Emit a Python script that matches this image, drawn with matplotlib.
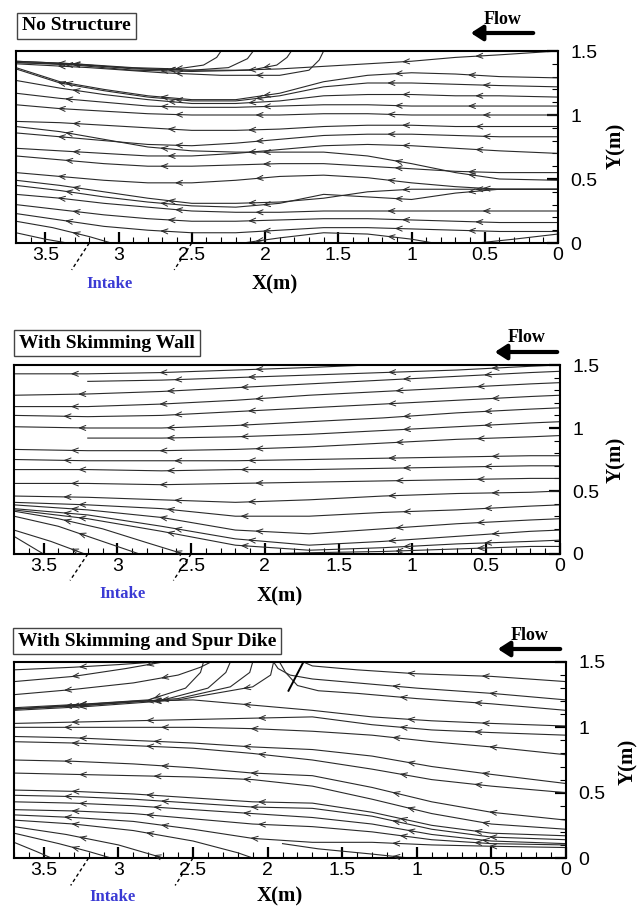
import numpy as np
import matplotlib
matplotlib.use('Agg')
import matplotlib.pyplot as plt
from matplotlib.ticker import MultipleLocator, FuncFormatter

# ---------------- panel 1 : no structure ----------------
NS_X = [3.7, 3.4, 3.1, 2.8, 2.5, 2.2, 1.9, 1.6, 1.3, 1.0, 0.7, 0.4, 0.0]
NS_Y = [
    [1.41, 1.40, 1.38, 1.36, 1.35, 1.35, 1.36, 1.38, 1.40, 1.42, 1.45, 1.47, 1.50],
    [1.37, 1.26, 1.20, 1.15, 1.12, 1.12, 1.17, 1.26, 1.31, 1.33, 1.32, 1.30, 1.29],
    [1.36, 1.25, 1.19, 1.14, 1.11, 1.11, 1.15, 1.22, 1.25, 1.25, 1.24, 1.23, 1.22],
    [1.27, 1.21, 1.16, 1.12, 1.09, 1.09, 1.11, 1.15, 1.16, 1.16, 1.15, 1.15, 1.14],
    [1.17, 1.13, 1.10, 1.07, 1.06, 1.06, 1.07, 1.08, 1.08, 1.07, 1.07, 1.07, 1.07],
    [1.08, 1.05, 1.03, 1.01, 1.00, 1.00, 1.00, 1.01, 1.01, 1.00, 1.00, 1.00, 1.00],
    [0.95, 0.94, 0.92, 0.90, 0.88, 0.88, 0.89, 0.91, 0.92, 0.92, 0.91, 0.91, 0.91],
    [0.91, 0.87, 0.81, 0.75, 0.72, 0.71, 0.71, 0.71, 0.68, 0.62, 0.55, 0.50, 0.49],
    [0.86, 0.83, 0.80, 0.77, 0.76, 0.78, 0.81, 0.84, 0.85, 0.85, 0.84, 0.83, 0.83],
    [0.74, 0.72, 0.70, 0.68, 0.68, 0.70, 0.73, 0.76, 0.77, 0.76, 0.74, 0.72, 0.70],
    [0.68, 0.65, 0.62, 0.60, 0.60, 0.61, 0.62, 0.62, 0.60, 0.58, 0.56, 0.55, 0.55],
    [0.55, 0.52, 0.49, 0.47, 0.47, 0.49, 0.52, 0.53, 0.51, 0.47, 0.44, 0.42, 0.42],
    [0.49, 0.45, 0.40, 0.35, 0.31, 0.31, 0.32, 0.35, 0.40, 0.42, 0.42, 0.42, 0.42],
    [0.45, 0.41, 0.36, 0.32, 0.29, 0.28, 0.31, 0.38, 0.36, 0.34, 0.39, 0.42, 0.42],
    [0.38, 0.35, 0.31, 0.28, 0.25, 0.24, 0.24, 0.25, 0.25, 0.25, 0.25, 0.25, 0.25],
    [0.30, 0.26, 0.22, 0.19, 0.17, 0.17, 0.18, 0.19, 0.19, 0.18, 0.17, 0.16, 0.16],
    [0.23, 0.18, 0.13, 0.10, 0.08, 0.08, 0.10, 0.12, 0.12, 0.11, 0.10, 0.09, 0.09],
]
# lines that start or end on a wall
NS_WALL_X = [
    [3.7, 3.3, 2.9, 2.6, 2.42, 2.33, 2.30],
    [3.7, 3.3, 2.9, 2.5, 2.25, 2.12, 2.08],
    [3.7, 3.3, 2.9, 2.5, 2.1, 1.92, 1.85, 1.82],
    [3.7, 3.2, 2.7, 2.3, 1.9, 1.7, 1.63, 1.60],
    [3.7, 3.45, 3.2, 3.05],
    [3.7, 3.5, 3.35],
    [2.15, 1.9, 1.6, 1.3, 1.0, 0.85],
    [0.55, 0.3, 0.0],
]
NS_WALL_Y = [
    [1.42, 1.40, 1.37, 1.36, 1.39, 1.45, 1.50],
    [1.42, 1.40, 1.36, 1.35, 1.37, 1.44, 1.50],
    [1.41, 1.39, 1.35, 1.34, 1.35, 1.39, 1.45, 1.50],
    [1.40, 1.37, 1.33, 1.31, 1.31, 1.35, 1.43, 1.50],
    [0.17, 0.12, 0.05, 0.0],
    [0.08, 0.03, 0.0],
    [0.0, 0.04, 0.08, 0.07, 0.03, 0.0],
    [0.0, 0.03, 0.07],
]

# ---------------- panel 2 : skimming wall ----------------
SW_X = [3.7, 3.2, 2.7, 2.2, 1.7, 1.2, 0.7, 0.2, 0.0]
SW_Y = [
    [1.26, 1.27, 1.29, 1.32, 1.35, 1.38, 1.41, 1.44, 1.45],
    [1.17, 1.17, 1.19, 1.22, 1.26, 1.29, 1.32, 1.35, 1.36],
    [1.10, 1.09, 1.10, 1.13, 1.16, 1.19, 1.22, 1.25, 1.26],
    [1.01, 1.00, 1.00, 1.02, 1.05, 1.08, 1.12, 1.15, 1.16],
    [0.83, 0.82, 0.82, 0.83, 0.85, 0.88, 0.91, 0.93, 0.94],
    [0.75, 0.74, 0.74, 0.74, 0.75, 0.76, 0.77, 0.78, 0.78],
    [0.67, 0.67, 0.66, 0.67, 0.67, 0.68, 0.69, 0.70, 0.70],
    [0.56, 0.56, 0.55, 0.56, 0.57, 0.58, 0.59, 0.60, 0.60],
    [0.46, 0.45, 0.43, 0.41, 0.43, 0.46, 0.48, 0.49, 0.50],
    [0.41, 0.39, 0.36, 0.30, 0.30, 0.33, 0.35, 0.38, 0.39],
    [0.39, 0.35, 0.29, 0.19, 0.16, 0.20, 0.24, 0.27, 0.28],
    [0.36, 0.31, 0.22, 0.12, 0.07, 0.10, 0.14, 0.18, 0.19],
    [0.35, 0.28, 0.18, 0.07, 0.03, 0.05, 0.08, 0.10, 0.11],
]
SW_WALL_X = [
    [3.7, 3.2, 2.7, 2.2, 1.7, 1.3],
    [3.2, 2.7, 2.2, 1.7, 1.2, 0.7, 0.2, 0.0],
    [3.2, 2.7, 2.2, 1.7, 1.2, 0.7, 0.2, 0.0],
    [2.05, 1.7, 1.2, 0.7, 0.2, 0.0],
    [3.7, 3.4, 3.1, 2.8, 2.55],
    [3.7, 3.4, 3.1, 2.85],
    [3.7, 3.45, 3.22],
    [3.7, 3.5],
]
SW_WALL_Y = [
    [1.43, 1.43, 1.44, 1.46, 1.48, 1.50],
    [1.37, 1.38, 1.40, 1.42, 1.44, 1.46, 1.49, 1.50],
    [0.92, 0.92, 0.93, 0.95, 0.98, 1.01, 1.04, 1.05],
    [0.0, 0.01, 0.02, 0.04, 0.06, 0.06],
    [0.34, 0.28, 0.20, 0.09, 0.0],
    [0.30, 0.22, 0.10, 0.0],
    [0.19, 0.10, 0.0],
    [0.14, 0.0],
]

# ---------------- panel 3 : skimming wall and spur dike ----------------
SD_X = [3.7, 3.3, 2.9, 2.5, 2.1, 1.7, 1.3, 0.9, 0.5, 0.0]
SD_Y = [
    [1.14, 1.17, 1.20, 1.21, 1.17, 1.13, 1.08, 1.05, 1.03, 1.01],
    [1.03, 1.04, 1.05, 1.06, 1.07, 1.08, 1.02, 0.98, 0.96, 0.94],
    [1.00, 1.00, 1.00, 1.00, 0.99, 0.97, 0.94, 0.89, 0.85, 0.79],
    [0.93, 0.92, 0.90, 0.88, 0.85, 0.83, 0.78, 0.70, 0.64, 0.57],
    [0.89, 0.88, 0.86, 0.84, 0.80, 0.75, 0.68, 0.60, 0.55, 0.50],
    [0.75, 0.74, 0.72, 0.69, 0.65, 0.63, 0.54, 0.43, 0.35, 0.29],
    [0.65, 0.64, 0.63, 0.62, 0.60, 0.55, 0.45, 0.34, 0.26, 0.22],
    [0.52, 0.51, 0.49, 0.46, 0.43, 0.42, 0.35, 0.25, 0.19, 0.17],
    [0.48, 0.47, 0.45, 0.42, 0.39, 0.38, 0.32, 0.22, 0.16, 0.14],
    [0.43, 0.42, 0.40, 0.37, 0.34, 0.31, 0.26, 0.18, 0.13, 0.11],
    [0.37, 0.36, 0.34, 0.30, 0.26, 0.24, 0.20, 0.14, 0.11, 0.10],
    [0.33, 0.31, 0.28, 0.22, 0.15, 0.12, 0.12, 0.10, 0.09, 0.08],
]
SD_WALL_X = [
    [3.7, 3.3, 3.0, 2.75],
    [3.7, 3.3, 2.95, 2.7],
    [3.7, 3.3, 2.9, 2.6, 2.45, 2.38],
    [3.7, 3.2, 2.8, 2.55, 2.45, 2.43],
    [3.7, 3.2, 2.7, 2.4, 2.28, 2.25],
    [3.7, 3.2, 2.6, 2.25, 2.12, 2.10],
    [3.7, 3.2, 2.6, 2.1, 1.98, 1.96],
    [0.0, 0.5, 1.0, 1.4, 1.66, 1.8, 1.88, 1.92],
    [0.0, 0.5, 1.0, 1.4, 1.7, 1.85, 1.93, 1.96],
    [0.0, 0.5, 1.0, 1.4, 1.7, 1.76],
    [3.7, 3.3, 2.9, 2.5, 2.2, 2.1],
    [1.05, 1.3, 1.66, 1.9],
    [3.7, 3.35, 3.0, 2.7],
    [3.7, 3.4, 3.2, 3.05],
    [3.7, 3.55, 3.45],
]
SD_WALL_Y = [
    [1.44, 1.46, 1.48, 1.50],
    [1.35, 1.39, 1.45, 1.50],
    [1.25, 1.29, 1.34, 1.40, 1.46, 1.50],
    [1.15, 1.18, 1.21, 1.30, 1.42, 1.50],
    [1.14, 1.17, 1.21, 1.30, 1.42, 1.50],
    [1.14, 1.17, 1.22, 1.31, 1.42, 1.50],
    [1.13, 1.16, 1.21, 1.31, 1.40, 1.50],
    [1.13, 1.18, 1.22, 1.26, 1.28, 1.32, 1.42, 1.50],
    [1.21, 1.26, 1.30, 1.34, 1.37, 1.40, 1.45, 1.50],
    [1.35, 1.39, 1.41, 1.44, 1.47, 1.50],
    [0.29, 0.26, 0.21, 0.13, 0.04, 0.0],
    [0.0, 0.03, 0.07, 0.11],
    [0.24, 0.18, 0.10, 0.0],
    [0.19, 0.11, 0.05, 0.0],
    [0.12, 0.05, 0.0],
]
DIKE_X = [1.76, 1.86]
DIKE_Y = [1.50, 1.28]

TITLES = ["No Structure", "With Skimming Wall", "With Skimming and Spur Dike"]
INTAKE_X = [3.2, 2.5]

W, H = 638, 913
LINE_COL = '#2a2a2a'


def fx(px):
    return px / W


def fy(py):
    return 1 - py / H


def draw_arrows(ax, xs, ys, arrow_x, k):
    xs = np.asarray(xs, dtype=float)
    ys = np.asarray(ys, dtype=float)
    order = np.argsort(xs)
    xs, ys = xs[order], ys[order]
    for j, xa in enumerate(arrow_x):
        xa = xa + 0.05 * ((k + j) % 3 - 1)
        if xa - 0.03 < xs[0] or xa + 0.03 > xs[-1]:
            continue
        x0, x1 = xa - 0.03, xa + 0.015
        y0, y1 = np.interp(x0, xs, ys), np.interp(x1, xs, ys)
        if y1 >= 1.49 or y1 <= 0.01:
            continue
        ax.annotate("", xy=(x1, y1), xytext=(x0, y0),
                    arrowprops=dict(arrowstyle='->,head_length=0.45,head_width=0.18',
                                    color=LINE_COL, lw=0.7, mutation_scale=10,
                                    shrinkA=0, shrinkB=0))


def setup_axes(ax):
    ax.set_xlim(3.7, 0)
    ax.set_ylim(0, 1.5)
    ax.yaxis.tick_right()
    for a in (ax.xaxis, ax.yaxis):
        a.set_major_locator(MultipleLocator(0.5))
        a.set_minor_locator(MultipleLocator(0.1))
        a.set_major_formatter(FuncFormatter(lambda v, p: '%g' % v))
    ax.tick_params(which='both', direction='in', top=False, left=False,
                   right=True, bottom=True, labelsize=14, colors='black')
    ax.tick_params(which='major', length=8, width=1.6)
    ax.tick_params(which='minor', length=4, width=0.8)
    ax.tick_params(axis='y', pad=9)
    ax.tick_params(axis='x', pad=3)
    for lab in ax.get_xticklabels() + ax.get_yticklabels():
        lab.set_fontfamily('Liberation Sans')
    for s in ax.spines.values():
        s.set_linewidth(1.5)


fig = plt.figure(figsize=(W / 100, H / 100), dpi=100)

# axes boxes in pixels: left, top, right, bottom
boxes = [(16, 51, 558, 243), (14, 365, 560, 554), (14, 662, 566, 858)]
panels = [
    (NS_X, NS_Y, NS_WALL_X, NS_WALL_Y, [3.35, 2.65, 2.05, 1.1, 0.55]),
    (SW_X, SW_Y, SW_WALL_X, SW_WALL_Y, [3.3, 2.65, 2.1, 1.1, 0.5]),
    (SD_X, SD_Y, SD_WALL_X, SD_WALL_Y, [3.3, 2.75, 2.1, 1.1, 0.55]),
]
# title box, flow label, xlabel, intake, ylabel positions (pixels)
title_pos = [(22, 26), (19, 343), (18, 641)]
flow_pos = [(503, 19), (527, 338), (530, 635)]
xlab_pos = [(275, 284), (280, 596), (280, 896)]
intake_pos = [(110, 284), (123, 594), (113, 897)]
ylab_pos = [(616, 146), (616, 460), (628, 762)]

for i, (l, t, r, b) in enumerate(boxes):
    ax = fig.add_axes([fx(l), fy(b), fx(r) - fx(l), fy(t) - fy(b)])
    setup_axes(ax)
    sx, sy, wx, wy, arrow_x = panels[i]

    k = 0
    for row in sy:
        ax.plot(sx, row, color=LINE_COL, lw=0.8)
        draw_arrows(ax, sx, row, arrow_x, k)
        k += 1
    for xs, ys in zip(wx, wy):
        ax.plot(xs, ys, color=LINE_COL, lw=0.8)
        draw_arrows(ax, xs, ys, arrow_x, k)
        k += 1

    if i == 2:
        ax.plot(DIKE_X, DIKE_Y, color='black', lw=1.4)

    # intake marks below the axis
    for xi in INTAKE_X:
        ax.plot([xi, xi + 0.12], [0, -0.21], color='black', lw=1,
                ls=(0, (2.5, 2)), clip_on=False)

    tx, ty = title_pos[i]
    fig.text(fx(tx), fy(ty), TITLES[i], fontsize=14, fontweight='bold',
             family='Liberation Serif', ha='left', va='center',
             bbox=dict(boxstyle='square,pad=0.25', fc='white', ec='#444', lw=1))

    px_, py_ = flow_pos[i]
    fig.text(fx(px_), fy(py_), "Flow", fontsize=13, fontweight='bold',
             family='Liberation Serif', ha='center', va='center')
    ay = py_ + 14
    fig.add_artist(matplotlib.patches.FancyArrowPatch(
        (fx(px_ + 33), fy(ay)), (fx(px_ - 35), fy(ay)), transform=fig.transFigure,
        arrowstyle='-|>,head_length=0.7,head_width=0.45', mutation_scale=10,
        lw=3, color='black'))

    xx, xy_ = xlab_pos[i]
    fig.text(fx(xx), fy(xy_), "X(m)", fontsize=15, fontweight='bold',
             family='Liberation Serif', ha='center', va='center')
    ix, iy = intake_pos[i]
    fig.text(fx(ix), fy(iy), "Intake", fontsize=12, fontweight='bold',
             family='Liberation Serif', ha='center', va='center', color='#3a3ad4')
    yx, yy = ylab_pos[i]
    fig.text(fx(yx), fy(yy), "Y(m)", fontsize=15, fontweight='bold',
             family='Liberation Serif', ha='center', va='center', rotation=90)

fig.savefig('out.png', dpi=100, facecolor='white')
